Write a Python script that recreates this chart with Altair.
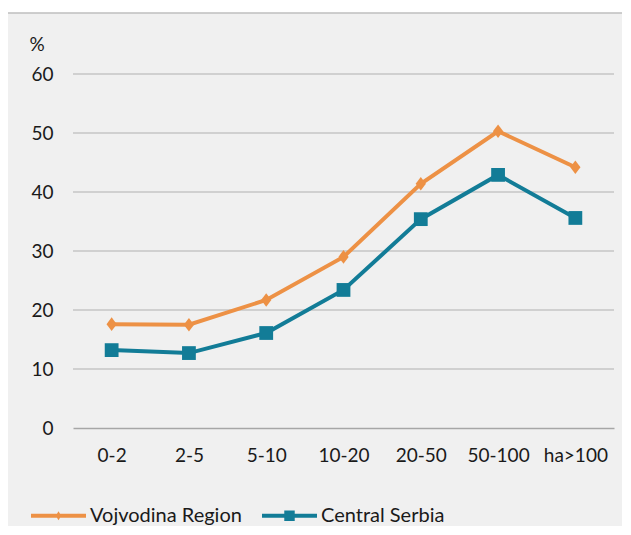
import altair as alt
import pandas as pd

categories = ["0-2", "2-5", "5-10", "10-20", "20-50", "50-100", "ha>100"]
vojvodina = [17.6, 17.5, 21.7, 29.0, 41.4, 50.3, 44.2]
central = [13.2, 12.7, 16.1, 23.4, 35.4, 42.9, 35.6]
series_names = ["Vojvodina Region", "Central Serbia"]
colors = ["#ED9145", "#127C97"]
y_ticks = [10, 20, 30, 40, 50, 60]

rows = []
for c, v in zip(categories, vojvodina):
    rows.append({"cat": c, "val": v, "series": series_names[0]})
for c, v in zip(categories, central):
    rows.append({"cat": c, "val": v, "series": series_names[1]})
df = pd.DataFrame(rows)

FONT = "Lato"
FS = 19
W, H = 541, 354

x = alt.X("cat:N", sort=categories, title=None,
          scale=alt.Scale(paddingInner=0, paddingOuter=0.5),
          axis=alt.Axis(labelAngle=0, labelFont=FONT, labelFontSize=FS, labelColor="#1a1a1a",
                        ticks=False, domain=True, domainColor="#a6a6a6", domainWidth=1.6,
                        labelPadding=18, grid=False, zindex=1))
y_scale = alt.Scale(domain=[0, 60], nice=False)
y_axis = alt.Axis(values=[0] + y_ticks, labelFont=FONT, labelFontSize=FS,
                  labelColor="#1a1a1a", ticks=False, domain=False, labelPadding=20,
                  grid=False, zindex=1,
                  titleAngle=0, titleFont=FONT, titleFontSize=FS, titleFontWeight="normal",
                  titleColor="#1a1a1a", titleX=-44, titleY=-30, titleAlign="left",
                  titleBaseline="middle")
y = alt.Y("val:Q", title="%", scale=y_scale, axis=y_axis)

color_scale = alt.Scale(domain=series_names, range=colors)

backdrop = alt.Chart(pd.DataFrame({"a": [0]})).mark_rect(
    fill="#f0f0f0", stroke="#bfbfbf", strokeWidth=1.5, clip=False
).encode(x=alt.value(-66), x2=alt.value(640), y=alt.value(-61), y2=alt.value(560))

grid = alt.Chart(pd.DataFrame({"t": y_ticks})).mark_rule(
    color="#c6c6c6", strokeWidth=1.3
).encode(y=alt.Y("t:Q", title="%", scale=y_scale, axis=y_axis))

lines = alt.Chart(df).mark_line(strokeWidth=4).encode(
    x=x, y=y, color=alt.Color("series:N", scale=color_scale, legend=None)
)

pts_v = alt.Chart(df).transform_filter(alt.datum.series == series_names[0]).mark_point(
    filled=True, opacity=1, shape="M0,-1.2L0.9,0L0,1.2L-0.9,0Z", size=130).encode(
    x=x, y=y, color=alt.Color("series:N", scale=color_scale, legend=None))
pts_c = alt.Chart(df).transform_filter(alt.datum.series == series_names[1]).mark_point(
    filled=True, opacity=1, shape="square", size=190).encode(
    x=x, y=y, color=alt.Color("series:N", scale=color_scale, legend=None))

leg_paths = [
    "M-1,-0.07H1V0.07H-1Z M0,-0.16L0.1,0L0,0.16L-0.1,0Z",
    "M-1,-0.07H1V0.07H-1Z M-0.19,-0.19H0.19V0.19H-0.19Z",
]
leg = dict(title=None, orient="none", direction="horizontal",
           legendX=-42, legendY=414,
           labelFont=FONT, labelFontSize=20, labelColor="#1a1a1a",
           symbolSize=3025, columnPadding=20, labelOffset=4,
           symbolStrokeWidth=0, symbolOpacity=1)
legend_layer = alt.Chart(df).transform_filter("false").mark_point(filled=True, size=3025).encode(
    x=x, y=y,
    color=alt.Color("series:N", scale=color_scale, sort=series_names, legend=alt.Legend(**leg)),
    shape=alt.Shape("series:N", scale=alt.Scale(domain=series_names, range=leg_paths),
                    sort=series_names, legend=alt.Legend(**leg)),
)

chart = alt.layer(backdrop, grid, lines, pts_v, pts_c, legend_layer).resolve_legend(
    color="independent", shape="independent"
).properties(
    width=W, height=H,
    background="white",
    padding={"left": 65, "top": 66, "right": 8, "bottom": 98},
    autosize=alt.AutoSizeParams(type="none"),
).configure_view(stroke=None)

chart.save("out.html", embed_options={"renderer": "svg", "actions": False})
